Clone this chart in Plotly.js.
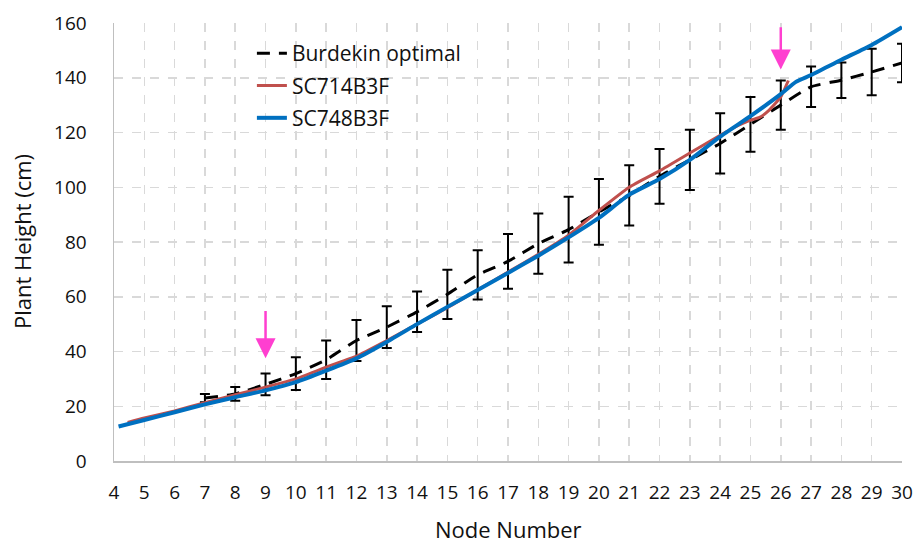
<!DOCTYPE html>
<html>
<head>
<meta charset="utf-8">
<script src="https://cdn.plot.ly/plotly-3.0.1.min.js"></script>
<style>html,body{margin:0;padding:0;background:#fff;}#chart{width:915px;height:543px;}</style>
</head>
<body>
<div id="chart"></div>
<script>
// Burdekin optimal (mean with error bars)
const burdekinNodes = [7,8,9,10,11,12,13,14,15,16,17,18,19,20,21,22,23,24,25,26,27,28,29,30];
const burdekinHeight = [23,24.5,28,31.9,37,44,48.9,54.5,60.9,68,72.9,79.4,84.5,91,97,104,110,116,123,130,136.7,139.1,142.1,145.4];
const burdekinErr = [1.5,2.5,4,6,7,7.5,7.6,7.4,9,9,10,11,12,12,11,10,11,11,10,9,7.4,6.5,8.5,7];

// SC714B3F
const sc714Nodes = [4.45,5,6,7,8,9,10,11,12,13,14,15,16,17,18,19,20,21,22,23,24,24.5,25,25.3,25.6,26,26.25];
const sc714Height = [14.1,15.7,18.3,21.3,24.2,27,30,34.3,38.3,44,50,56,62.5,69,75.5,82.5,91.5,100,106,112.5,119,122,124.5,125.5,128,133,139];

// SC748B3F
const sc748Nodes = [4.15,5,6,7,8,9,10,11,12,13,14,15,16,17,18,19,20,21,22,23,24,25,26,26.5,27,28,29,30];
const sc748Height = [12.6,15,17.8,20.7,23.3,25.8,28.8,33,37.5,43.5,50,56.3,62.5,68.7,75,81.7,88.8,97.3,103,110,118.5,126,134,138.5,141,146.6,152,158.5];

// Arrows marking nodes
const arrowNodes = [9, 26];
const arrowTip = [37.5, 143];
const arrowTail = [55.3, 159];

const xTicks = [4,5,6,7,8,9,10,11,12,13,14,15,16,17,18,19,20,21,22,23,24,25,26,27,28,29,30];
const yTicks = [0,20,40,60,80,100,120,140,160];

const FONT = 'Open Sans, Liberation Sans, sans-serif';
const TXT = '#111111';

const traces = [
  {
    x: burdekinNodes, y: burdekinHeight, name: 'Burdekin optimal', type: 'scatter', mode: 'lines', legendgroup: 'a',
    line: {color: '#000000', width: 3, dash: '13px,9px', shape: 'spline', smoothing: 0.5},
    error_y: {type: 'data', array: burdekinErr, visible: true, color: '#000000', thickness: 2, width: 5}
  },
  {
    x: sc714Nodes, y: sc714Height, name: 'SC714B3F', type: 'scatter', mode: 'lines', legendgroup: 'b',
    line: {color: '#C0504D', width: 3, shape: 'spline', smoothing: 0.5}
  },
  {
    x: sc748Nodes, y: sc748Height, name: 'SC748B3F', type: 'scatter', mode: 'lines', legendgroup: 'c',
    line: {color: '#0070C0', width: 4, shape: 'spline', smoothing: 0.5}
  }
];

const annotations = arrowNodes.map((n, i) => ({
  x: n, y: arrowTip[i], ax: n, ay: arrowTail[i], xref: 'x', yref: 'y', axref: 'x', ayref: 'y',
  text: '', showarrow: true, arrowhead: 2, arrowsize: 1.6, arrowwidth: 2.5, arrowcolor: '#FF3FD0', standoff: 0
}));
annotations.push({
  xref: 'paper', yref: 'paper', x: 0.5, y: 0, yshift: -68, xanchor: 'center', yanchor: 'middle',
  text: 'Node Number', showarrow: false, font: {family: FONT, size: 22, color: TXT}
});
annotations.push({
  xref: 'paper', yref: 'paper', x: 0, xshift: -92, y: 0.5, xanchor: 'center', yanchor: 'middle', textangle: -90,
  text: 'Plant Height (cm)', showarrow: false, font: {family: FONT, size: 22, color: TXT}
});

const layout = {
  width: 915, height: 543,
  margin: {l: 114, r: 13, t: 23, b: 82},
  paper_bgcolor: '#ffffff', plot_bgcolor: '#ffffff',
  font: {family: FONT, size: 19, color: TXT},
  showlegend: true,
  legend: {
    x: 0.175, y: 0.977, xanchor: 'left', yanchor: 'top', bgcolor: 'rgba(255,255,255,0)',
    font: {family: FONT, size: 21, color: TXT}, tracegroupgap: 2
  },
  xaxis: {
    range: [4, 30], tickmode: 'array', tickvals: xTicks, ticktext: xTicks.map(String),
    showgrid: true, gridcolor: '#d9d9d9', gridwidth: 1.5, griddash: 'dash',
    showline: true, linecolor: '#bfbfbf', linewidth: 1.5, zeroline: false,
    ticks: '', ticklabelstandoff: 14, automargin: false,
    tickfont: {family: FONT, size: 19, color: TXT}
  },
  yaxis: {
    range: [0, 160], tickmode: 'array', tickvals: yTicks, ticktext: yTicks.map(String),
    showgrid: true, gridcolor: '#d9d9d9', gridwidth: 1.5, griddash: 'dash',
    showline: true, linecolor: '#bfbfbf', linewidth: 1.5, zeroline: false,
    ticks: '', ticklabelstandoff: 22, automargin: false,
    tickfont: {family: FONT, size: 19, color: TXT}
  },
  annotations: annotations
};

Plotly.newPlot('chart', traces, layout, {displayModeBar: false, staticPlot: true});
</script>
</body>
</html>
